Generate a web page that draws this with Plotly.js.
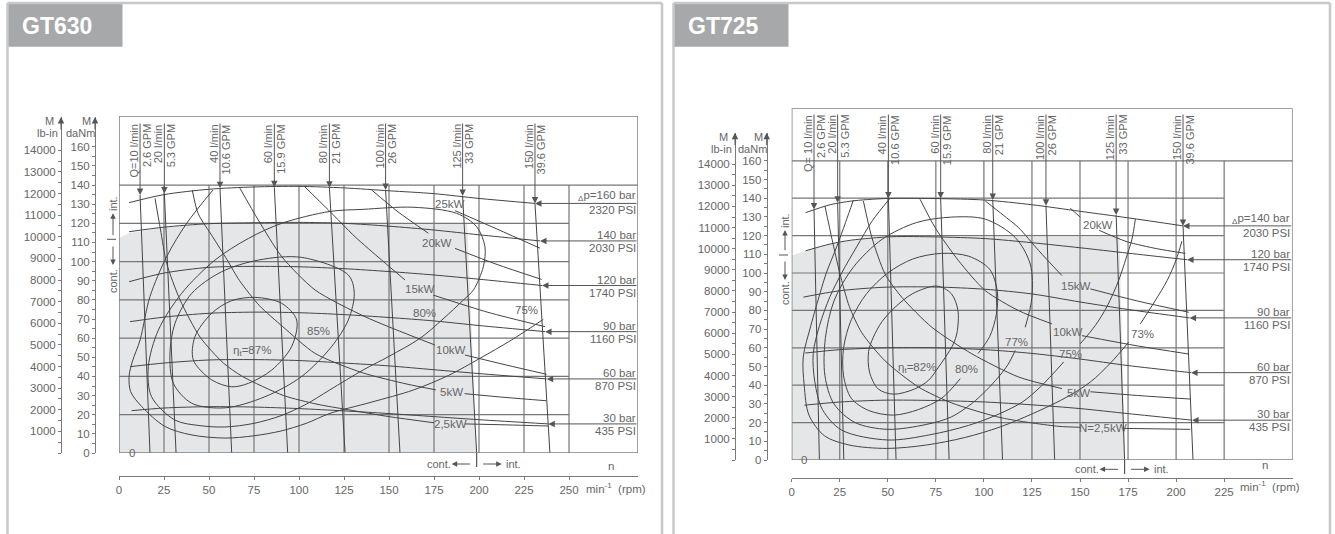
<!DOCTYPE html>
<html><head><meta charset="utf-8">
<script src="https://cdn.plot.ly/plotly-3.0.1.min.js"></script>
<style>html,body{margin:0;padding:0;background:#fff;}#chart{width:1335px;height:534px;}</style>
</head><body><div id="chart"></div>
<script>
// ================= DATA =================
// shared axis ticks
const daNmTicks = [0,10,20,30,40,50,60,70,80,90,100,110,120,130,140,150,160];
const daNmMinor = [5,15,25,35,45,55,65,75,85,95,105,115,125,135,145,155];
const lbinTicks = [1000,2000,3000,4000,5000,6000,7000,8000,9000,10000,11000,12000,13000,14000];
const lbinMinor = [0,500,1500,2500,3500,4500,5500,6500,7500,8500,9500,10500,11500,12500,13500];
const LBIN_PER_DANM = 88.507;

// ---------- GT630 ----------
const gt630_nTicks = [0,25,50,75,100,125,150,175,200,225,250];
const gt630_mGrid = [20,40,60,80,100,120,140];
const gt630_flowLabels = ["Q=10 l/min","20 l/min","40 l/min","60 l/min","80 l/min","100 l/min","125 l/min","150 l/min"];
const gt630_flowGpm = ["2.6 GPM","5.3 GPM","10.6 GPM","15.9 GPM","21 GPM","26 GPM","33 GPM","39.6 GPM"];
const gt630_flowTopN = [11.7,25.2,56.1,86.3,116.9,148.1,190.9,231.1];
const gt630_flowTipM = [134.8,135.6,138.3,138.8,138.6,137.4,134.3,130.4];
const gt630_flowBotN = [17.2,31.7,62.6,93.7,125.6,156.1,198.7,239.4];
const gt630_barLabels = ["<sub>Δ</sub>p=160 bar","140 bar","120 bar","90 bar","60 bar","30 bar"];
const gt630_psiLabels = ["2320 PSI","2030 PSI","1740 PSI","1160 PSI","870 PSI","435 PSI"];
const gt630_p160_n = [5.6,25,50,75,100,125,150,175,200,231.1];
const gt630_p160_M = [130.8,135,137.8,139,139.3,138.5,137,135.5,133,130.4];
const gt630_p140_n = [5.6,25,50,75,100,125,150,175,200,233.9];
const gt630_p140_M = [115.6,118,119.8,120.3,120.5,120,118.5,116.5,114,110.8];
const gt630_p120_n = [5.6,25,50,75,100,125,150,175,200,235];
const gt630_p120_M = [89.5,94,97,97.5,97.3,96.3,94.8,93,90.8,87.5];
const gt630_p90_n = [6.1,25,50,75,100,125,150,175,200,236.7];
const gt630_p90_M = [68.6,71,73,73.6,73.3,72.3,70.8,69,66.6,63.4];
const gt630_p60_n = [6.1,25,50,75,100,125,150,175,200,237.6];
const gt630_p60_M = [45.1,47,48.6,48.8,48.3,47,45.5,43.5,41.5,38.7];
const gt630_p30_n = [7,25,50,75,100,125,150,175,200,238.5];
const gt630_p30_M = [22.1,23.5,24.2,24,23.2,22,20.6,19,17.4,15.2];
const gt630_kwLabels = ["25kW","20kW","15kW","10kW","5kW","2,5kW"];
const gt630_kwLabelN = [183.7,176.5,167,184.4,184.8,184];
const gt630_kwLabelM = [130.1,109.6,85.5,53.8,31.7,15];
const gt630_kw25_n = [186.7,210,233.9];
const gt630_kw25_M = [126.6,117,107];
const gt630_kw20_n = [140.4,155,171.9,null,186.7,210,234.8];
const gt630_kw20_M = [137.4,126,114.8,null,106.9,98.5,90.7];
const gt630_kw15_n = [103.3,116.3,131.1,145.9,158.9,null,174.6,205,236.7];
const gt630_kw15_M = [139,127,113,100.8,90.4,null,82.5,73.5,66];
const gt630_kw10_n = [67.2,77.4,90.4,108.9,136.7,175.6,null,192.2,215,237.6];
const gt630_kw10_M = [138.3,121.7,102.6,85.2,71.2,56.4,null,51.2,46,41.1];
const gt630_kw5_n = [40.7,44,52,60,67,78,91,109,135,160,176,null,192,215,237.6];
const gt630_kw5_M = [137.4,125,113,101,90,77,66,52,42,36,33,null,31,29,27.3];
const gt630_kw2_5_n = [20,23,26.5,33.9,45,58,68.6,91.5,110,127.4,150,175,null,192.2,215,238.5];
const gt630_kw2_5_M = [133,117,99,80,60.6,47,40,30,25.5,22.6,19,15.8,null,15.2,14.7,14.1];
const gt630_effLabels = ["η<sub>t</sub>=87%","85%","80%","75%"];
const gt630_effLabelN = [73.7,111,169.5,226.6];
const gt630_effLabelM = [53.4,63.8,72.9,74.7];
const gt630_eff87_n = [75.6,90.4,98.7,95.9,84.8,71.9,62.6,51.5,41.3,42.2,51.5,62.6,75.6];
const gt630_eff87_M = [81.3,78.2,69.5,55.6,43.3,36.4,34.6,38.2,48.6,60.8,73,79.6,81.3];
const gt630_eff85_n = [101.5,127.4,130.7,127.4,118.1,101.5,81.1,58.9,40.4,30.2,28.3,31.1,40.4,57,77.4,101.5];
const gt630_eff85_M = [102.2,93,83.4,69.5,55.6,40,29.4,23.6,26,36.4,52.1,67.7,83.4,94.7,100.8,102.2];
const gt630_eff80_n = [117.2,135.6,163.3,187.6,198.7,203.3,202.4,196.9,191.3,180,167.2,150,135.7,117,104,90,75,58.9,45,31.1,18.1,16.3,21.9,34.8,53.3,71.9,90.4,117.2];
const gt630_eff80_M = [126.2,127.3,128.4,125.2,118.2,107.8,97.3,85.2,79.9,70,59.9,50.5,43.4,32.9,25.5,19.5,15.5,13.6,14.3,17.2,29.4,45.1,64.3,83.4,100.8,112.1,120,126.2];
const gt630_eff75_n = [52.2,37.6,26.5,17.2,11.7,7.5,5.6,6.5,12.6,25.5,40,58.9,75,90,104,117.2,140,163.5,183,200.6,218,235.7];
const gt630_eff75_M = [137.4,120,102.6,81.7,59,48,40,32,24.3,13.9,9.5,7.8,9,11.5,15.5,20.7,26.5,32.9,40.5,49.5,59,69.8];
const gt630_contN = [0,5.6,25,50,75,100,125,150,175,193.5,198.7,0];
const gt630_contM = [112.2,115,117.8,119.6,120.2,120.2,120.2,120.2,120.2,120.2,0,0];
const gt630_contLimitN = 198.7;

// ---------- GT725 ----------
const gt725_nTicks = [0,25,50,75,100,125,150,175,200,225];
const gt725_mGrid = [20,40,60,80,100,120,140,160];
const gt725_flowLabels = ["Q= 10 l/min","20 l/min","40 l/min","60 l/min","80 l/min","100 l/min","125 l/min","150 l/min"];
const gt725_flowGpm = ["2.6 GPM","5.3 GPM","10.6 GPM","15.9 GPM","21 GPM","26 GPM","33 GPM","39.6 GPM"];
const gt725_flowTopN = [11.6,23.9,50.3,77.5,104.6,132.3,168.8,203.6];
const gt725_flowTipM = [134,137.5,139.8,139.8,139,136,131,125.2];
const gt725_flowBotN = [14.4,27.1,54.3,81.9,109.7,136.8,173.2,208.8];
const gt725_barLabels = ["<sub>Δ</sub>p=140 bar","120 bar","90 bar","60 bar","30 bar"];
const gt725_psiLabels = ["2030 PSI","1740 PSI","1160 PSI","870 PSI","435 PSI"];
const gt725_p140_n = [7.3,20,31.2,48.6,75,100.7,125,150,175,203.6];
const gt725_p140_M = [132.3,136.5,138.5,139.8,139.8,139,136.5,133,129.5,125.2];
const gt725_p120_n = [7.3,20,31.2,52.1,75,100.7,125,150,175,205.7];
const gt725_p120_M = [111.9,115.5,117.6,119.4,119.3,118.4,116.2,113.5,110.6,107.1];
const gt725_p90_n = [6.1,25,48.6,75,100.7,125,150,175,207];
const gt725_p90_M = [87.1,90.5,92.4,92.5,91.3,88.8,84.5,80.5,76];
const gt725_p60_n = [7,25,48.6,75,100.7,125,150,175,207.8];
const gt725_p60_M = [57.2,59,60,60,59,57,54,50.5,46.7];
const gt725_p30_n = [6.6,25,48.6,75,100.7,125,150,175,208.3];
const gt725_p30_M = [29.3,31,32,31.8,31,29.5,27.5,24.8,21.3];
const gt725_kwLabels = ["20kW","15kW","10kW","5kW","N=2,5kW"];
const gt725_kwLabelN = [159.4,148,143.7,149,161.9];
const gt725_kwLabelM = [125.7,93.2,68.4,36,16.9];
const gt725_kw20_n = [145,150.2,null,160,174.5,190,204.8];
const gt725_kw20_M = [134.6,129.8,null,122.8,116.7,113,110.5];
const gt725_kw15_n = [100.7,110,118,128.5,140.6,null,155.4,180,206.6];
const gt725_kw15_M = [138.5,131,124.3,112,98.6,null,91.5,85,79];
const gt725_kw10_n = [66.8,74.6,86.8,100.7,118,135.4,null,151,180,206.4];
const gt725_kw10_M = [139.4,124.3,106.6,90.6,79.9,72.8,null,66.5,61,56.7];
const gt725_kw5_n = [37.3,41.7,48.6,57.3,72.9,93.7,118,140.6,null,155.4,180,207.4];
const gt725_kw5_M = [138.5,119,99.4,87,71,56.8,44.4,38.2,null,36.5,34.5,32.6];
const gt725_kw2_5_n = [17.3,21,25,30,36.5,48.6,66,83.3,109.4,138.9,150.2,null,172.4,207.4];
const gt725_kw2_5_M = [135.8,118,100,82,68,53,39,30.5,22.5,18,17.5,null,16.9,16.4];
const gt725_effLabels = ["η<sub>t</sub>=82%","80%","77%","75%","73%"];
const gt725_effLabelN = [65,91,117.2,145,182.3];
const gt725_effLabelM = [49.3,48.9,63.1,56.8,67.5];
const gt725_eff82_n = [75.5,83,86.5,86,84.2,80,76.4,71.2,64,53,45,40.5,40,42.5,47,53.8,63,75.5];
const gt725_eff82_M = [93,89,80,68,62.2,55,49.7,42.6,38,35.2,38,47,58,65.7,74,81.7,89,93];
const gt725_eff80_n = [97,103,106.5,107,103,92,78,63,50,39,31,27,27,31,40,53,66,78,87.7];
const gt725_eff80_M = [57,66,78,90,102,109,110.5,107.5,100,89,75,60,45,33,26.5,24,27,33,43.5];
const gt725_eff77_n = [121.5,125,124.1,116.3,100.7,83.3,65,47,32,22,17.5,17.3,22,33,50,70,83,93.7,101,107.6,112.5,116.3];
const gt725_eff77_M = [71,87,104.8,119,128.8,129.9,127,118,103,85,65,45,30,20,16.4,19,23,30.2,37,44.4,51,58.6];
const gt725_eff75_n = [51.2,42,33.8,26,19.9,14.5,11.2,12,16,26,50,72,92,108.5,120,129.3,141.5,null,150.2,158,164,170.1,174,177,178.8];
const gt725_eff75_M = [140,128,114,100,87.3,72,57,42,27,16,10.7,13.5,18.5,24.9,31,39,52.4,null,62.2,72,82,96,108,118,128.8];
const gt725_eff73_n = [32.1,28,23.4,18,14.7,10,6,6.5,9,17,30,49.5,70,90,108.5,128,143.2,155.4,166,175.3,null,181.4,189,195.3,200,203];
const gt725_eff73_M = [139,127,114,100,89,72,55,40,24,13,8,6.2,8,12,17.7,26,33.7,41.7,52,63,null,72.8,85,95.9,107,117];
const gt725_contN = [0,7.3,20,31.2,52.1,75,100,125,150,170.5,173.5,0];
const gt725_contM = [109.2,112,115.5,117.6,119.3,119.3,119.3,119.3,119.3,119.3,0,0];
const gt725_contLimitN = 173.2;

// ================= BUILD =================
const FONT = 'Liberation Sans, Arial, Helvetica, sans-serif';
const TXT = '#666666';
const CURVE = '#444444';
const GRID = '#767676';
const AXC = '#7a7a7a';
const SHADE = '#e5e6e8';
const PX = x => x / 1335;
const PY = y => 1 - y / 534;

const traces = [];
const annotations = [];
const shapes = [];
const layout = {
  width: 1335, height: 534, margin: {l:0, r:0, t:0, b:0, pad:0},
  paper_bgcolor: '#ffffff', plot_bgcolor: 'rgba(0,0,0,0)', showlegend: false,
  font: {family: FONT, color: TXT, size: 11}
};

function f(size, color) { return {family: FONT, size: size || 11.5, color: color || TXT}; }
// paper-positioned text, explicitly centred
function ptext(xpx, ypx, text, extra) {
  return Object.assign({xref:'paper', yref:'paper', x:PX(xpx), y:PY(ypx), text:text, showarrow:false,
    xanchor:'center', yanchor:'middle', font:f(11)}, extra || {});
}
function parrow(xpx, ypx, ax, ay) {
  return {xref:'paper', yref:'paper', x:PX(xpx), y:PY(ypx), ax:ax, ay:ay, text:'', showarrow:true,
    xanchor:'center', yanchor:'middle', arrowhead:2, arrowsize:1.1, arrowwidth:1, arrowcolor:'#555555'};
}

function buildPanel(G, ids, D) {
  const xmax = (G.x1 - G.x0) / G.sx;
  const ymax = (G.yb - G.yt) / G.sy;
  const nOf = p => (p - G.x0) / G.sx;
  const mOf = p => (G.yb - p) / G.sy;
  const axMax = (G.yb - G.axTop) / G.sy;
  const xa = ids.x, ya = ids.y;

  layout[ids.xKey] = {domain:[PX(G.x0), PX(G.x1)], range:[0, xmax], anchor:'free', position:PY(G.axisY),
    showline:true, linecolor:AXC, linewidth:1, tickvals:D.nTicks, ticktext:D.nTicks.map(String),
    ticks:'outside', ticklen:3, tickcolor:AXC, tickfont:f(11.5), showgrid:false, zeroline:false, fixedrange:true};
  layout[ids.yKey] = {domain:[PY(G.yb), PY(G.yt)], range:[0, ymax], visible:false, fixedrange:true};
  layout[ids.dKey] = {domain:[PY(G.yb), PY(G.axTop)], range:[0, axMax], anchor:'free', position:PX(G.daNmX), side:'left',
    showline:true, linecolor:AXC, linewidth:1, tickvals:daNmTicks, ticktext:daNmTicks.map(String),
    ticks:'outside', ticklen:3, tickcolor:AXC, minor:{tickvals:daNmMinor, ticks:'outside', ticklen:3, tickcolor:AXC},
    tickfont:f(11.5), showgrid:false, zeroline:false, fixedrange:true};
  layout[ids.lKey] = {overlaying:ids.d, range:[0, axMax * LBIN_PER_DANM], anchor:'free', position:PX(G.lbX), side:'left',
    showline:true, linecolor:AXC, linewidth:1, tickvals:lbinTicks, ticktext:lbinTicks.map(String),
    ticks:'outside', ticklen:3, tickcolor:AXC, minor:{tickvals:lbinMinor, ticks:'outside', ticklen:3, tickcolor:AXC},
    tickfont:f(11.5), showgrid:false, zeroline:false, fixedrange:true};

  // shading (continuous operation)
  traces.push({type:'scatter', mode:'lines', x:D.contN, y:D.contM, xaxis:xa, yaxis:ya, fill:'toself',
    fillcolor:SHADE, line:{width:0, color:SHADE}, hoverinfo:'skip'});

  // grid
  const gx = [], gy = [];
  const gTop = D.mGrid[D.mGrid.length - 1];
  const gRight = D.nTicks[D.nTicks.length - 1];
  D.nTicks.forEach(n => { if (n > 0) { gx.push(n, n, null); gy.push(0, gTop, null); } });
  D.mGrid.forEach(m => { gx.push(0, m === gTop ? xmax : gRight, null); gy.push(m, m, null); });
  traces.push({type:'scatter', mode:'lines', x:gx, y:gy, xaxis:xa, yaxis:ya, line:{color:GRID, width:1.2}, hoverinfo:'skip'});

  // frame
  shapes.push({type:'rect', xref:xa, yref:ya, x0:0, x1:xmax, y0:0, y1:ymax, line:{color:'#808080', width:1.5}, layer:'above'});

  // flow lines
  const hdrTopM = mOf(G.hdrTextTop);
  D.flowTopN.forEach((n, i) => {
    traces.push({type:'scatter', mode:'lines', x:[n, D.flowBotN[i]], y:[D.flowTipM[i], 0], xaxis:xa, yaxis:ya,
      line:{color:CURVE, width:1}, hoverinfo:'skip'});
    annotations.push({xref:xa, yref:ya, axref:xa, ayref:ya, x:n, y:D.flowTipM[i], ax:n, ay:hdrTopM, text:'',
      showarrow:true, arrowhead:2, arrowsize:1.3, arrowwidth:1, arrowcolor:'#555555'});
    annotations.push({xref:xa, yref:ya, x:n, y:hdrTopM, text:D.flowLabels[i], textangle:-90, xanchor:'center', yanchor:'top',
      xshift:-6.5, showarrow:false, font:f(11)});
    annotations.push({xref:xa, yref:ya, x:n, y:hdrTopM, text:D.flowGpm[i], textangle:-90, xanchor:'center', yanchor:'top',
      xshift:6.5, showarrow:false, font:f(11)});
  });

  // pressure curves
  D.pressN.forEach((pn, i) => {
    const pm = D.pressM[i];
    traces.push({type:'scatter', mode:'lines', x:pn, y:pm, xaxis:xa, yaxis:ya,
      line:{color:CURVE, width:1, shape:'spline', smoothing:0.8}, hoverinfo:'skip'});
    const en = pn[pn.length - 1], em = pm[pm.length - 1];
    annotations.push({xref:xa, yref:ya, axref:xa, ayref:ya, x:en, y:em, ax:xmax, ay:em, text:'',
      showarrow:true, arrowhead:2, arrowsize:1.3, arrowwidth:1, arrowcolor:'#555555'});
    annotations.push({xref:'paper', yref:ya, x:PX(G.x1 - 1.5), y:em, text:D.barLabels[i], xanchor:'right', yanchor:'bottom',
      showarrow:false, font:f(11.5), borderpad:0, yshift:-1});
    annotations.push({xref:'paper', yref:ya, x:PX(G.x1 - 1.5), y:em, text:D.psiLabels[i], xanchor:'right', yanchor:'top',
      showarrow:false, font:f(11.5), borderpad:0, yshift:0});
  });

  // power curves
  D.kwN.forEach((kn, i) => {
    traces.push({type:'scatter', mode:'lines', x:kn, y:D.kwM[i], xaxis:xa, yaxis:ya,
      line:{color:CURVE, width:1, shape:'spline', smoothing:0.7}, hoverinfo:'skip', connectgaps:false});
    annotations.push({xref:xa, yref:ya, x:D.kwLabelN[i], y:D.kwLabelM[i], text:D.kwLabels[i], showarrow:false,
      font:f(11.5), xanchor:'center', yanchor:'middle'});
  });

  // efficiency curves
  D.effN.forEach((en, i) => {
    traces.push({type:'scatter', mode:'lines', x:en, y:D.effM[i], xaxis:xa, yaxis:ya,
      line:{color:CURVE, width:1, shape:'spline', smoothing:0.9}, hoverinfo:'skip', connectgaps:false});
  });
  D.effLabels.forEach((t, i) => {
    annotations.push({xref:xa, yref:ya, x:D.effLabelN[i], y:D.effLabelM[i], text:t, showarrow:false,
      font:f(11.5), xanchor:'center', yanchor:'middle'});
  });

  // axis tick crossing marks
  const dv = daNmTicks.concat(daNmMinor);
  traces.push({type:'scatter', mode:'markers', x:dv.map(() => nOf(G.daNmX)), y:dv, xaxis:xa, yaxis:ids.d,
    marker:{symbol:'line-ew', size:7, line:{width:1, color:AXC}}, cliponaxis:false, hoverinfo:'skip'});
  const lv = lbinTicks.concat(lbinMinor);
  traces.push({type:'scatter', mode:'markers', x:lv.map(() => nOf(G.lbX)), y:lv, xaxis:xa, yaxis:ids.l,
    marker:{symbol:'line-ew', size:7, line:{width:1, color:AXC}}, cliponaxis:false, hoverinfo:'skip'});
  traces.push({type:'scatter', mode:'markers', x:D.nTicks, y:D.nTicks.map(() => mOf(G.axisY)), xaxis:xa, yaxis:ya,
    marker:{symbol:'line-ns', size:7, line:{width:1, color:AXC}}, cliponaxis:false, hoverinfo:'skip'});

  // axis top arrows and names
  [G.daNmX, G.lbX].forEach(x => annotations.push(Object.assign(parrow(x, G.axTop, 0, 14), {arrowsize:1.3})));
  annotations.push(ptext(G.lbX - 12, G.axTop + 4, 'M'));
  annotations.push(ptext(G.lbX - 13.5, G.axTop + 16, 'lb-in'));
  annotations.push(ptext(G.daNmX - 8.5, G.axTop + 4, 'M'));
  annotations.push(ptext(G.daNmX - 14.5, G.axTop + 16, 'daNm'));

  // int/cont side marker
  const sx = G.sideX;
  annotations.push(ptext(sx, G.side[0], 'int.', {textangle:-90}));
  annotations.push(parrow(sx, G.side[1], 0, G.side[2] - G.side[1]));
  shapes.push({type:'line', xref:'paper', yref:'paper', x0:PX(sx - 6), x1:PX(sx + 3), y0:PY(G.side[3]), y1:PY(G.side[3]), line:{color:'#555', width:1}});
  annotations.push(parrow(sx, G.side[5], 0, G.side[4] - G.side[5]));
  annotations.push(ptext(sx, G.side[6], 'cont.', {textangle:-90}));

  // bottom cont/int marker
  shapes.push({type:'line', xref:xa, yref:'paper', x0:D.contLimitN, x1:D.contLimitN, y0:PY(G.yb), y1:PY(G.yb + 14), line:{color:'#555', width:1.2}});
  const cy = PY(G.cy);
  annotations.push({xref:xa, yref:'paper', x:D.contLimitN, y:cy, xshift:-38, text:'cont.', showarrow:false, font:f(11), xanchor:'center', yanchor:'middle'});
  annotations.push({xref:xa, yref:'paper', x:D.contLimitN, y:cy, xshift:-25, ax:20, ay:0, text:'', showarrow:true,
    xanchor:'center', yanchor:'middle', arrowhead:2, arrowsize:1.1, arrowwidth:1, arrowcolor:'#555555'});
  annotations.push({xref:xa, yref:'paper', x:D.contLimitN, y:cy, xshift:25, ax:-20, ay:0, text:'', showarrow:true,
    xanchor:'center', yanchor:'middle', arrowhead:2, arrowsize:1.1, arrowwidth:1, arrowcolor:'#555555'});
  annotations.push({xref:xa, yref:'paper', x:D.contLimitN, y:cy, xshift:37, text:'int.', showarrow:false, font:f(11), xanchor:'center', yanchor:'middle'});

  // other texts
  annotations.push({xref:xa, yref:ya, x:nOf(G.x0 + 12.5), y:0, text:'0', showarrow:false, font:f(11.5), xanchor:'center', yanchor:'middle'});
  annotations.push(ptext(G.nLbl[0], G.nLbl[1], 'n', {font:f(11.5)}));
  annotations.push(ptext(G.rpm[0], G.rpm[1], 'min<sup>-1</sup>  (rpm)', {font:f(11.5)}));

  // panel border & title box
  shapes.push({type:'rect', xref:'paper', yref:'paper', x0:PX(G.bx0), x1:PX(G.bx0 + 115), y0:PY(46.7), y1:PY(3), fillcolor:'#a7a8aa', line:{width:0}, layer:'below'});
  [[G.bx0, 3, G.bx0, 534], [G.bx0, 3, G.bx1, 3], [G.bx1, 3, G.bx1, 534]].forEach(s =>
    shapes.push({type:'line', xref:'paper', yref:'paper', x0:PX(s[0]), y0:PY(s[1]), x1:PX(s[2]), y1:PY(s[3]), line:{color:'#c8c8ca', width:2.5}}));
  annotations.push(ptext(G.bx0 + 12, 26, D.title, {xanchor:'left', font:{family:FONT, size:23, color:'#ffffff', weight:'bold'}}));
}

const G630 = {x0:119, x1:638, yb:453, yt:116, sx:1.8, sy:1.914, axisY:476, daNmX:95, lbX:61, axTop:117, hdrTextTop:122,
  sideX:113, side:[204, 213.3, 236.7, 239.3, 245, 265, 281], cy:464, nLbl:[611, 466], rpm:[616, 488], bx0:7.5, bx1:662};
const G725 = {x0:791.7, x1:1292.7, yb:460, yt:108.3, sx:1.922, sy:1.87, axisY:478.3, daNmX:766.7, lbX:735, axTop:132.7, hdrTextTop:113,
  sideX:785, side:[221, 230, 251.7, 255, 260, 280, 293], cy:469.3, nLbl:[1265, 465], rpm:[1270, 486], bx0:673.5, bx1:1330};

buildPanel(G630, {x:'x', y:'y', d:'y2', l:'y3', xKey:'xaxis', yKey:'yaxis', dKey:'yaxis2', lKey:'yaxis3'}, {
  title:'GT630', nTicks:gt630_nTicks, mGrid:gt630_mGrid,
  flowLabels:gt630_flowLabels, flowGpm:gt630_flowGpm, flowTopN:gt630_flowTopN, flowTipM:gt630_flowTipM, flowBotN:gt630_flowBotN,
  barLabels:gt630_barLabels, psiLabels:gt630_psiLabels,
  pressN:[gt630_p160_n, gt630_p140_n, gt630_p120_n, gt630_p90_n, gt630_p60_n, gt630_p30_n],
  pressM:[gt630_p160_M, gt630_p140_M, gt630_p120_M, gt630_p90_M, gt630_p60_M, gt630_p30_M],
  kwLabels:gt630_kwLabels, kwLabelN:gt630_kwLabelN, kwLabelM:gt630_kwLabelM,
  kwN:[gt630_kw25_n, gt630_kw20_n, gt630_kw15_n, gt630_kw10_n, gt630_kw5_n, gt630_kw2_5_n],
  kwM:[gt630_kw25_M, gt630_kw20_M, gt630_kw15_M, gt630_kw10_M, gt630_kw5_M, gt630_kw2_5_M],
  effLabels:gt630_effLabels, effLabelN:gt630_effLabelN, effLabelM:gt630_effLabelM,
  effN:[gt630_eff87_n, gt630_eff85_n, gt630_eff80_n, gt630_eff75_n],
  effM:[gt630_eff87_M, gt630_eff85_M, gt630_eff80_M, gt630_eff75_M],
  contN:gt630_contN, contM:gt630_contM, contLimitN:gt630_contLimitN
});
buildPanel(G725, {x:'x2', y:'y4', d:'y5', l:'y6', xKey:'xaxis2', yKey:'yaxis4', dKey:'yaxis5', lKey:'yaxis6'}, {
  title:'GT725', nTicks:gt725_nTicks, mGrid:gt725_mGrid,
  flowLabels:gt725_flowLabels, flowGpm:gt725_flowGpm, flowTopN:gt725_flowTopN, flowTipM:gt725_flowTipM, flowBotN:gt725_flowBotN,
  barLabels:gt725_barLabels, psiLabels:gt725_psiLabels,
  pressN:[gt725_p140_n, gt725_p120_n, gt725_p90_n, gt725_p60_n, gt725_p30_n],
  pressM:[gt725_p140_M, gt725_p120_M, gt725_p90_M, gt725_p60_M, gt725_p30_M],
  kwLabels:gt725_kwLabels, kwLabelN:gt725_kwLabelN, kwLabelM:gt725_kwLabelM,
  kwN:[gt725_kw20_n, gt725_kw15_n, gt725_kw10_n, gt725_kw5_n, gt725_kw2_5_n],
  kwM:[gt725_kw20_M, gt725_kw15_M, gt725_kw10_M, gt725_kw5_M, gt725_kw2_5_M],
  effLabels:gt725_effLabels, effLabelN:gt725_effLabelN, effLabelM:gt725_effLabelM,
  effN:[gt725_eff82_n, gt725_eff80_n, gt725_eff77_n, gt725_eff75_n, gt725_eff73_n],
  effM:[gt725_eff82_M, gt725_eff80_M, gt725_eff77_M, gt725_eff75_M, gt725_eff73_M],
  contN:gt725_contN, contM:gt725_contM, contLimitN:gt725_contLimitN
});

layout.annotations = annotations;
layout.shapes = shapes;
Plotly.newPlot('chart', traces, layout, {staticPlot:true, displayModeBar:false});
</script>
</body></html>
